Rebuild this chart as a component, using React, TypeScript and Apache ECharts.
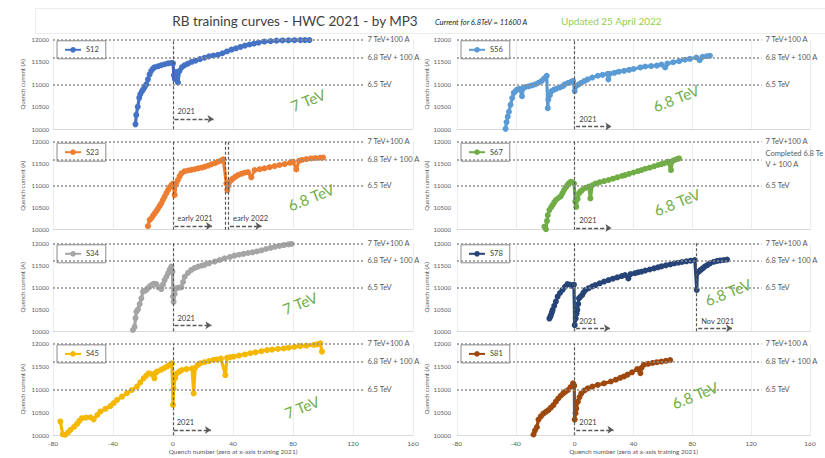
import React, { useEffect, useRef } from "react";
import * as echarts from "echarts";

// ---------- data ----------
const sectorNames = ["S12", "S56", "S23", "S67", "S34", "S78", "S45", "S81"];
const sectorColors = ["#4472c4", "#5b9bd5", "#ed7d31", "#70ad47", "#a5a5a5", "#264478", "#f5b800", "#9e480e"];
const energyLabels = ["7 TeV", "6.8 TeV", "6.8 TeV", "6.8 TeV", "7 TeV", "6.8 TeV", "7 TeV", "6.8 TeV"];

const xTicks = { min: -80, max: 160, interval: 40 };
const yTicks = { min: 10000, max: 12000, interval: 500 };

const refLevels = [12000, 11600, 11000];
const refLabels = ["7 TeV+100 A", "6.8 TeV + 100 A", "6.5 TeV"];
const refLabelsS67 = ["7 TeV+100 A", "Completed 6.8 Te\nV + 100 A", "6.5 TeV"];

const s12 = [
  [-25, 10110], [-24.5, 10320], [-23.5, 10500], [-22.5, 10700], [-21.8, 10780], [-20.7, 10845], [-19.8, 10890],
  [-18.9, 10940], [-17.8, 11000], [-16.7, 11110], [-15.6, 11220], [-14.5, 11300], [-13.3, 11350], [-12.2, 11380],
  [-10, 11400], [-7.8, 11425], [-5.6, 11445], [-3.3, 11465], [-1.1, 11475], [0, 11465],
  [0.6, 11200], [1.2, 11120], [2, 11270], [3.3, 11040], [4.4, 11300], [6, 11380], [7.8, 11425], [10, 11460],
  [12.5, 11500], [15, 11525], [18, 11560], [21, 11590], [24, 11620], [27, 11640], [30, 11655], [33, 11690],
  [36, 11730], [39, 11770], [42, 11800], [45, 11830], [48, 11860], [51, 11885], [54, 11905], [57, 11925],
  [61, 11950], [65, 11960], [69, 11970], [73, 11975], [77, 11978], [81, 11980], [85, 11982], [88, 11982], [91, 11982],
];

const s56 = [
  [-47, 10010], [-46.3, 10160], [-45.5, 10280], [-44.7, 10390], [-43.6, 10545], [-42.5, 10695], [-41.4, 10810],
  [-40.2, 10850], [-39.1, 10885], [-37.5, 10900], [-35.8, 10735], [-34.7, 10920], [-33.6, 10940], [-31.3, 10955],
  [-29, 10975], [-26.8, 11000], [-24.6, 11035], [-22.4, 11075], [-20.7, 11130], [-19, 11190],
  [-18.3, 10470], [-17.9, 10660], [-16.8, 10760], [-15.7, 10850], [-14, 10880], [-12.3, 10905], [-10, 10930],
  [-8, 10960], [-6.7, 11000], [-4.5, 11030], [-2.5, 11055], [-1.1, 11075],
  [0, 10850], [1.1, 10960], [2.8, 11000], [4.5, 11035], [6.7, 11075], [8.9, 11110], [12, 11150], [15.7, 11190],
  [19, 11210], [22.4, 11230], [22.9, 11110], [24, 11235], [27, 11255], [30, 11280], [33.6, 11300], [37, 11320],
  [40, 11340], [44.7, 11375], [48, 11395], [52, 11405], [55.9, 11415], [59, 11440], [61.5, 11375], [63, 11460],
  [67, 11490], [71, 11515], [75, 11545], [78.3, 11565], [82.8, 11595], [85, 11535], [87, 11610], [90, 11625], [92, 11635],
];

const s23 = [
  [-16.7, 10080], [-15.6, 10220], [-14.4, 10260], [-13.3, 10320], [-12.2, 10370], [-11, 10430], [-10, 10480],
  [-8.9, 10540], [-7.8, 10600], [-6.7, 10680], [-5.6, 10750], [-4.4, 10830], [-3.3, 10900], [-2.2, 10960],
  [-1.1, 11015], [0, 11050], [1.1, 10790], [2.2, 11060], [3.3, 11130], [4.4, 11210], [5.6, 11280], [7.8, 11330],
  [10, 11345], [12.2, 11360], [14.5, 11375], [16.7, 11395], [19, 11410], [21, 11430], [23.3, 11455], [25.6, 11485],
  [28, 11515], [30, 11545], [32, 11570], [33.5, 11600],
  [35.6, 11050], [36.2, 10900], [37, 11000], [37.8, 11090], [39, 11130], [40, 11165], [41.7, 11205], [43.3, 11240],
  [45.5, 11270], [47.8, 11295], [50, 11310], [52.2, 11190], [54.4, 11355], [57.8, 11375], [61, 11395], [64.4, 11420],
  [67.8, 11445], [71, 11470], [74.4, 11490], [78, 11520], [80, 11545], [82.2, 11370], [84, 11565], [86, 11585],
  [89, 11605], [92, 11620], [95, 11630], [98, 11635], [100, 11640],
];

const s67 = [
  [-20.6, 10070], [-19.5, 10010], [-18.8, 10200], [-18.3, 10330], [-17.2, 10445], [-16, 10510], [-15, 10560],
  [-13.9, 10620], [-12.8, 10675], [-11, 10720], [-9.4, 10765], [-8.3, 10830], [-7.2, 10900], [-6, 10960],
  [-4.9, 11015], [-3.8, 11060], [-2.7, 11090], [-1.5, 11080], [-0.4, 11050],
  [0.4, 10640], [1.1, 10520], [2, 10700], [2.9, 10825], [4, 10870], [5.1, 10900], [7.4, 10950], [9.6, 10980],
  [10.7, 10710], [12, 11010], [14.1, 11050], [17, 11080], [20, 11105], [23, 11130], [26, 11160], [29, 11190],
  [32, 11220], [34.2, 11240], [37, 11270], [40, 11300], [43, 11330], [45.4, 11355], [48, 11385], [51, 11410],
  [54, 11440], [56.6, 11470], [59, 11490], [61, 11510], [63.3, 11545], [65.5, 11355], [66.5, 11560], [68, 11585],
  [70, 11610], [71, 11620],
];

const s34 = [
  [-26.7, 10030], [-25.6, 10100], [-25, 10300], [-24.4, 10445], [-23.3, 10500], [-22.2, 10620], [-21.1, 10750],
  [-20, 10900], [-18.9, 10920], [-17.8, 10940], [-16.7, 10980], [-15.6, 11015], [-14.4, 11050], [-13.3, 11075],
  [-12.2, 11080], [-11.1, 11075], [-9.6, 11000], [-7.8, 10960], [-6.7, 11060], [-5.6, 11165], [-4.4, 11240],
  [-3.3, 11320], [-2.2, 11400], [-1.1, 11470], [-0.4, 11355],
  [0, 10790], [0.4, 10670], [1.1, 10850], [2.2, 10980], [3.3, 10990], [4.4, 10995], [5.6, 11000], [6.7, 11120],
  [7.8, 11240], [10, 11330], [12.2, 11395], [14.5, 11440], [16.7, 11470], [19, 11490], [21.1, 11510], [24, 11545],
  [27.8, 11585], [31, 11620], [34.4, 11660], [38, 11690], [41, 11720], [44, 11740], [47, 11760], [50, 11780],
  [53, 11795], [56, 11815], [59, 11840], [62, 11870], [65, 11895], [68, 11920], [71, 11940], [74, 11960],
  [77, 11975], [79, 11985],
];

const s78 = [
  [-17.2, 10290], [-16.6, 10330], [-16.1, 10370], [-15.5, 10430], [-15, 10485], [-13.9, 10580], [-12.8, 10675],
  [-11.6, 10790], [-10, 10870], [-8.3, 10940], [-6.6, 11010], [-4.9, 11075], [-3.3, 11060], [-1.6, 11030], [-0.5, 11060],
  [0, 10140], [0.7, 10290], [1.3, 10400], [1.8, 10485], [2.4, 10620], [2.9, 10750], [4, 10790], [5.1, 10825],
  [6, 10880], [7.4, 10940], [9.5, 10980], [12, 11020], [14.1, 11050], [17, 11090], [20, 11130], [23, 11165],
  [26, 11195], [29, 11225], [32, 11255], [34.2, 11280], [36.5, 11200], [38, 11300], [41, 11320], [43, 11340],
  [45.4, 11355], [48, 11380], [51, 11405], [54, 11430], [56.6, 11455], [59, 11475], [62, 11500], [65, 11520],
  [67.8, 11545], [70.5, 11560], [73, 11575], [76, 11590], [78.9, 11605], [81.7, 11620],
  [83, 10940], [83.4, 11330], [84.5, 11360], [85.7, 11395], [87, 11430], [88.5, 11470], [90.2, 11505], [92, 11545],
  [94.6, 11580], [97, 11600], [99, 11610], [101.3, 11620], [103.6, 11630],
];

const s45 = [
  [-75.1, 10300], [-73.5, 10020], [-71.8, 10010], [-70, 10060], [-68.4, 10115], [-66, 10180], [-64, 10245],
  [-62.5, 10310], [-60.7, 10370], [-58, 10385], [-55.1, 10390], [-52.9, 10345], [-50.5, 10440], [-48.4, 10515],
  [-45, 10575], [-41.8, 10635], [-39.5, 10700], [-37.3, 10770], [-34, 10840], [-30.7, 10915], [-27.5, 10985],
  [-24, 11060], [-21.8, 11150], [-19.6, 11240], [-17.8, 11300], [-16.2, 11350], [-14.2, 11330], [-12.4, 11240],
  [-11.5, 11360], [-10.7, 11385], [-8, 11425], [-6, 11460], [-4, 11495], [-2.2, 11530], [-0.7, 11565],
  [0, 10660], [0.4, 11020], [1.5, 11250], [2.7, 11350], [4.4, 11390], [6, 11420], [9, 11440], [12.7, 11455],
  [13.8, 10910], [14.8, 11470], [16.5, 11530], [18.2, 11565], [21, 11590], [24, 11615], [27, 11640], [29.3, 11650],
  [32, 11670], [34.9, 11310], [36, 11685], [38, 11700], [40.4, 11710], [44, 11735], [48, 11760], [51.6, 11785],
  [55, 11805], [59, 11830], [62.7, 11855], [66, 11865], [70, 11880], [73.8, 11890], [77, 11905], [81, 11925],
  [84.9, 11940], [89, 11950], [93.8, 11965], [96, 11980], [98.2, 12000], [99.3, 11820],
];

const s81 = [
  [-28, 10015], [-27, 10100], [-25.7, 10175], [-24.6, 10340], [-23, 10410], [-21.3, 10470], [-19.6, 10510],
  [-17.9, 10545], [-16.2, 10600], [-14.5, 10655], [-12.8, 10730], [-11.2, 10800], [-9.5, 10860], [-7.8, 10910],
  [-6.2, 10950], [-4.5, 10985], [-2.8, 11050], [-1.1, 11130], [-0.3, 11080],
  [0, 10340], [0.6, 10480], [1.1, 10580], [2.2, 10730], [3.3, 10830], [4.5, 10910], [6.7, 10975], [8.9, 11020],
  [12, 11060], [15.7, 11095], [20, 11130], [24.6, 11170], [28, 11210], [31, 11250], [33.6, 11280], [36, 11320],
  [39, 11370], [42.5, 11440], [44.7, 11350], [45.5, 11470], [47, 11535], [50, 11555], [53, 11575], [55.9, 11590],
  [59, 11605], [62, 11620], [64.9, 11635],
];

const sectorData = [s12, s56, s23, s67, s34, s78, s45, s81];

// campaign separators (x position of vertical dashed lines) per panel
const separators = [[0], [0], [0, 34.5, 37], [0], [0], [0, 82.5], [0], [0]];
// campaign arrows per panel: [xStart, xEnd, y, text]
const campaignArrows: [number, number, number, string][][] = [
  [[1, 27, 10230, "2021"]],
  [[1, 25, 10060, "2021"]],
  [[1, 26, 10085, "early 2021"], [38, 59, 10085, "early 2022"]],
  [[1, 25, 10040, "2021"]],
  [[1, 25.6, 10140, "2021"]],
  [[1, 24, 10070, "2021"], [84, 107, 10070, "Nov 2021"]],
  [[0.5, 25.3, 10115, "2021"]],
  [[1.1, 26.4, 10117, "2021"]],
];

// ---------- layout ----------
const FONT = 'Lato, "Noto Sans", "DejaVu Sans", sans-serif';
const COL_LEFT = [53, 457];
const COL_W = [360, 353];
const ROW_TOP = [39.3, 141.7, 243.3, 343.4];
const ROW_H = [90, 88, 88, 91.8];
const ENERGY_POS = [
  [308, 100], [676, 98], [311, 197], [677, 202], [300, 303], [728, 292], [302, 407], [695, 395],
];
const X_NAME = "Quench number (zero at x-axis training 2021)";
const Y_NAME = "Quench current (A)";

function buildOption() {
  const panels = sectorNames.map((name, i) => ({ name, i, col: i % 2, row: Math.floor(i / 2) }));

  const grid = panels.map((p) => ({
    left: COL_LEFT[p.col],
    top: ROW_TOP[p.row],
    width: COL_W[p.col],
    height: ROW_H[p.row],
  }));

  const xAxis = panels.map((p) => ({
    type: "value",
    gridIndex: p.i,
    min: xTicks.min,
    max: xTicks.max,
    interval: xTicks.interval,
    axisLine: { show: true, lineStyle: { color: "#d9d9d9", width: 1 } },
    axisTick: { show: false },
    splitLine: { show: true, lineStyle: { color: "#ededed", width: 1 } },
    axisLabel: {
      show: p.row === 3,
      fontSize: 6.5,
      color: "#595959",
      margin: 5,
      fontFamily: FONT,
      formatter: (v: number) => String(v),
    },
    name: p.row === 3 ? X_NAME : "",
    nameLocation: "middle",
    nameGap: 12,
    nameTextStyle: { fontSize: 6.5, color: "#595959", fontFamily: FONT },
  }));

  const yAxis = panels.map((p) => ({
    type: "value",
    gridIndex: p.i,
    min: yTicks.min,
    max: yTicks.max,
    interval: yTicks.interval,
    axisLine: { show: false },
    axisTick: { show: false },
    splitLine: { show: false },
    axisLabel: {
      fontSize: 6,
      color: "#595959",
      margin: p.col === 0 ? 4 : 6,
      fontFamily: FONT,
      formatter: (v: number) => String(v),
    },
    name: Y_NAME,
    nameLocation: "middle",
    nameGap: p.col === 0 ? 28 : 26,
    nameTextStyle: { fontSize: 6, color: "#595959", fontFamily: FONT },
  }));

  const lineLabel = { fontSize: 7.5, color: "#595959", fontFamily: FONT };

  const series = panels.map((p) => {
    const labels = p.name === "S67" ? refLabelsS67 : refLabels;
    const mlData: any[] = [];
    refLevels.forEach((lv, k) => {
      mlData.push([
        {
          coord: [xTicks.min, lv],
          lineStyle: { type: [2, 2], color: "#8f8f8f", width: 1.5 },
          label: {
            show: true,
            position: "end",
            distance: 4,
            formatter: labels[k],
            align: "left",
            lineHeight: 11,
            padding: p.name === "S67" && k === 1 ? [11, 0, 0, 0] : 0,
            ...lineLabel,
          },
        },
        { coord: [127, lv] },
      ]);
    });
    separators[p.i].forEach((sx) => {
      mlData.push({
        xAxis: sx,
        lineStyle: { type: [3, 2], color: "#595959", width: 1.2 },
        label: { show: false },
      });
    });
    campaignArrows[p.i].forEach(([x0, x1, y, text]) => {
      mlData.push([
        {
          coord: [x0, y],
          symbol: "none",
          lineStyle: { type: [4, 2], color: "#595959", width: 1.3 },
          label: {
            show: true,
            position: "insideStartTop",
            distance: 3,
            formatter: text,
            ...lineLabel,
            color: "#404040",
          },
        },
        { coord: [x1, y], symbol: "arrow", symbolSize: 6 },
      ]);
    });

    return {
      type: "line",
      name: p.name,
      xAxisIndex: p.i,
      yAxisIndex: p.i,
      data: sectorData[p.i],
      symbol: "circle",
      symbolSize: 6,
      showSymbol: true,
      showAllSymbol: true,
      lineStyle: { color: sectorColors[p.i], width: 3.2 },
      itemStyle: { color: sectorColors[p.i] },
      emphasis: { disabled: true },
      z: 3,
      markLine: {
        silent: true,
        symbol: "none",
        animation: false,
        data: mlData,
      },
    };
  });

  const legend = panels.map((p) => ({
    data: [p.name],
    left: COL_LEFT[p.col] + 4,
    top: ROW_TOP[p.row] + 1.5,
    backgroundColor: "#ffffff",
    borderColor: "#8c8c8c",
    borderWidth: 1,
    borderRadius: 0,
    padding: [5, 7, 5, 7],
    itemWidth: 16,
    itemHeight: 7,
    itemGap: 0,
    selectedMode: false,
    textStyle: { fontSize: 7.5, color: "#404040", fontFamily: FONT },
  }));

  const graphic: any[] = [
    {
      type: "rect",
      silent: true,
      shape: { x: 35.5, y: 8.5, width: 800, height: 25 },
      style: { fill: "none", stroke: "#ececec", lineWidth: 1 },
    },
    {
      type: "text",
      x: 295,
      y: 21,
      silent: true,
      style: {
        text: "RB training curves - HWC 2021 - by MP3",
        fontSize: 13.5,
        fontFamily: FONT,
        fill: "#404040",
        align: "center",
        verticalAlign: "middle",
      },
    },
    {
      type: "text",
      x: 435,
      y: 22,
      silent: true,
      style: {
        text: "Current for 6.8TeV = 11600 A",
        fontSize: 7.5,
        fontStyle: "italic",
        fontFamily: FONT,
        fill: "#262626",
        align: "left",
        verticalAlign: "middle",
      },
    },
    {
      type: "text",
      x: 561,
      y: 21,
      silent: true,
      style: {
        text: "Updated 25 April 2022",
        fontSize: 10,
        fontFamily: FONT,
        fill: "#92d050",
        align: "left",
        verticalAlign: "middle",
      },
    },
  ];
  energyLabels.forEach((t, i) => {
    graphic.push({
      type: "text",
      x: ENERGY_POS[i][0],
      y: ENERGY_POS[i][1],
      rotation: 0.38,
      silent: true,
      z: 10,
      style: {
        text: t,
        fontSize: 15,
        fontFamily: FONT,
        fill: "#70ad47",
        align: "center",
        verticalAlign: "middle",
      },
    });
  });

  return {
    animation: false,
    backgroundColor: "#ffffff",
    textStyle: { fontFamily: FONT },
    grid,
    xAxis,
    yAxis,
    legend,
    series,
    graphic,
  };
}

export default function App() {
  const ref = useRef<HTMLDivElement>(null);
  useEffect(() => {
    if (!ref.current) return;
    const chart = echarts.init(ref.current, undefined, { renderer: "svg" });
    chart.setOption(buildOption() as any);
    return () => chart.dispose();
  }, []);
  return (
    <div
      ref={ref}
      style={{ position: "fixed", left: 0, top: 0, width: 825, height: 458, background: "#fff" }}
    />
  );
}
